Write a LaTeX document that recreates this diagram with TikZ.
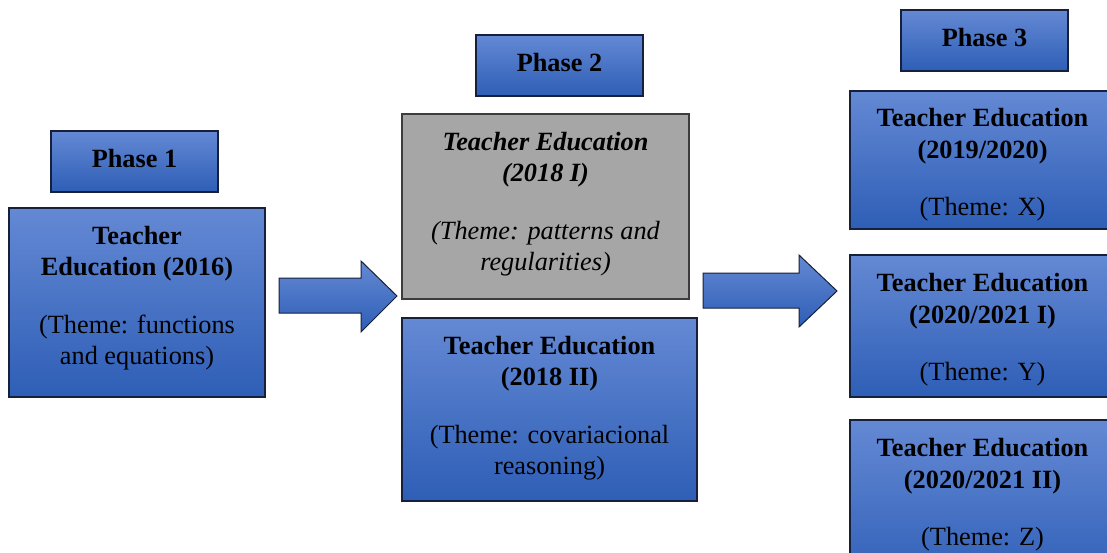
\documentclass[tikz,border=0pt]{standalone}
\usepackage{fontspec}
\setmainfont{Liberation Serif}
\definecolor{bordc}{RGB}{22,32,58}
\definecolor{btop}{RGB}{100,137,212}
\definecolor{bmid}{RGB}{68,114,198}
\definecolor{bbot}{RGB}{46,94,182}
\definecolor{grayfill}{RGB}{166,166,166}
\definecolor{graybord}{RGB}{60,60,60}
\begin{document}
\begin{tikzpicture}[x=1pt,y=-1pt,
  bluebox/.style={draw=bordc, line width=1.2pt, top color=btop, middle color=bmid, bottom color=bbot, inner sep=0pt},
  graybox/.style={draw=graybord, line width=1.2pt, fill=grayfill, inner sep=0pt},
  blockarrow/.style={draw=bordc, line width=1pt, line join=miter, top color=btop, middle color=bmid, bottom color=bbot},
  txt/.style={anchor=base, inner sep=0pt, font=\fontsize{26.3}{31}\selectfont},
  phasetxt/.style={txt, font=\fontsize{26.3}{31}\selectfont\bfseries}
]
\useasboundingbox (0,0) rectangle (1107,553);
\clip (0,0) rectangle (1107,553);

% Phase headers
\node[bluebox, minimum width=167pt, minimum height=61pt] (ph1) at (134.5,161.5) {};
\node[bluebox, minimum width=167pt, minimum height=61pt] (ph2) at (559.5,65.5) {};
\node[bluebox, minimum width=167pt, minimum height=61pt] (ph3) at (984.5,40.5) {};
\node[phasetxt] (ph1t) at ([yshift=-37pt]ph1.north) {Phase 1};
\node[phasetxt] (ph2t) at ([yshift=-37pt]ph2.north) {Phase 2};
\node[phasetxt] (ph3t) at ([yshift=-37pt]ph3.north) {Phase 3};

% Boxes
\node[bluebox, minimum width=256pt, minimum height=189pt] (b1) at (137,302.5) {};
\node[graybox, minimum width=287pt, minimum height=185pt] (b2a) at (545.5,206.5) {};
\node[bluebox, minimum width=295pt, minimum height=183pt] (b2b) at (549.5,409.5) {};
\node[bluebox, minimum width=265pt, minimum height=138pt] (b3a) at (982.5,160) {};
\node[bluebox, minimum width=265pt, minimum height=142pt] (b3b) at (982.5,326) {};
\node[bluebox, minimum width=265pt, minimum height=170pt] (b3c) at (982.5,505) {};

% Box texts
\node[txt] (b1t) at ([yshift=-37pt]b1.north)
  {\begin{tabular}[t]{@{}c@{}}\bfseries Teacher\\ \bfseries Education (2016)\\[27pt] (Theme: functions\\ and equations)\end{tabular}};
\node[txt] (b2at) at ([yshift=-37pt]b2a.north)
  {\begin{tabular}[t]{@{}c@{}}\bfseries\itshape Teacher Education\\ \bfseries\itshape (2018 I)\\[27pt] \itshape (Theme: patterns and\\ \itshape regularities)\end{tabular}};
\node[txt] (b2bt) at ([yshift=-37pt]b2b.north)
  {\begin{tabular}[t]{@{}c@{}}\bfseries Teacher Education\\ \bfseries (2018 II)\\[27pt] (Theme: covariacional\\ reasoning)\end{tabular}};
\node[txt] (b3at) at ([yshift=-36pt]b3a.north)
  {\begin{tabular}[t]{@{}c@{}}\bfseries Teacher Education\\[1pt] \bfseries (2019/2020)\\[26pt] (Theme: X)\end{tabular}};
\node[txt] (b3bt) at ([yshift=-37pt]b3b.north)
  {\begin{tabular}[t]{@{}c@{}}\bfseries Teacher Education\\[1pt] \bfseries (2020/2021 I)\\[26pt] (Theme: Y)\end{tabular}};
\node[txt] (b3ct) at ([yshift=-37pt]b3c.north)
  {\begin{tabular}[t]{@{}c@{}}\bfseries Teacher Education\\[1pt] \bfseries (2020/2021 II)\\[26pt] (Theme: Z)\end{tabular}};

% Block arrows
\path[blockarrow] (279,278) -- (361,278) -- (361,261) -- (397,296) -- (361,332) -- (361,313) -- (279,313) -- cycle;
\path[blockarrow] (703,273) -- (799,273) -- (799,255) -- (837,291) -- (799,327) -- (799,308) -- (703,308) -- cycle;
\end{tikzpicture}
\end{document}
